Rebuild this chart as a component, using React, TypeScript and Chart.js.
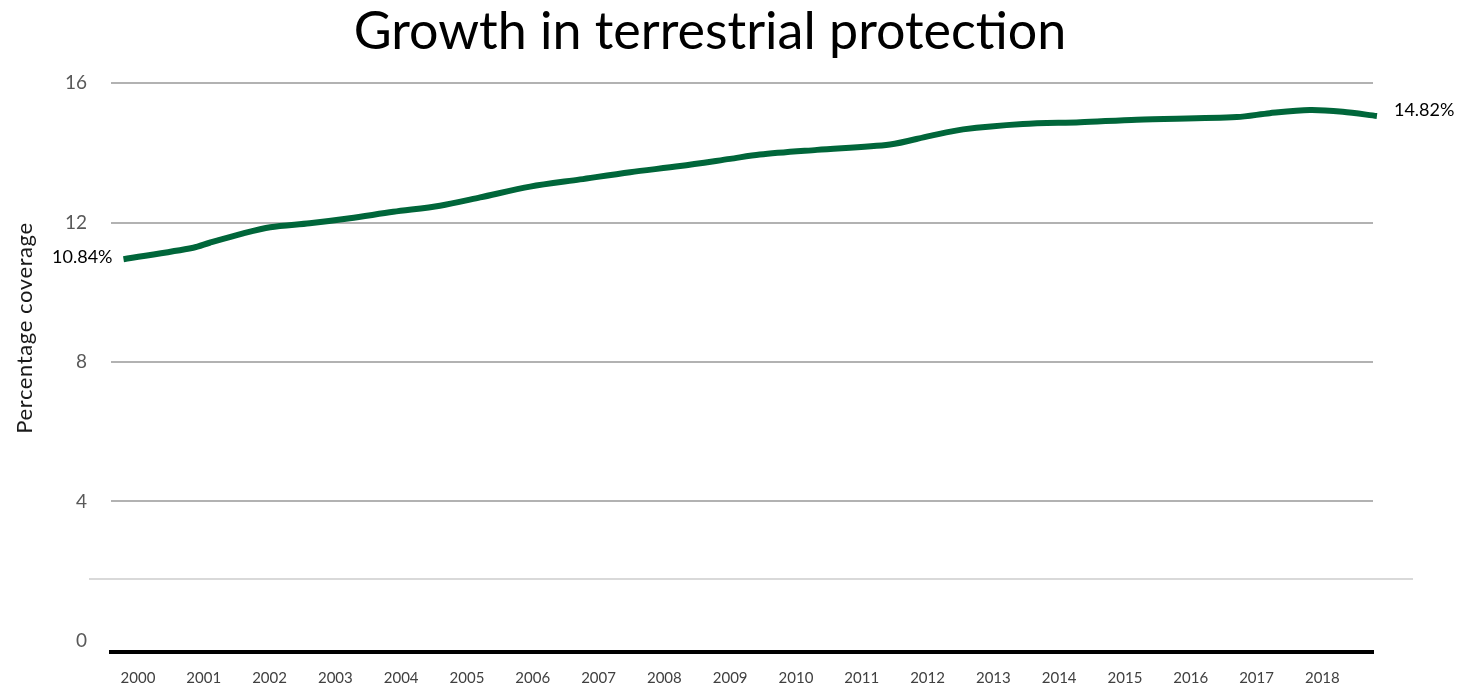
import React, { useEffect, useRef } from "react";
import { Chart, registerables } from "chart.js";

Chart.register(...registerables);

const TITLE = "Growth in terrestrial protection";
const Y_TITLE = "Percentage coverage";
const YEAR_TICKS = [2000, 2001, 2002, 2003, 2004, 2005, 2006, 2007, 2008, 2009, 2010, 2011, 2012, 2013, 2014, 2015, 2016, 2017, 2018];
const Y_TICKS = [0, 4, 8, 12, 16];
const REF_LINE = 1.78;

// time position (fractional year) of each sample and the terrestrial coverage (%)
const TIME = [1999.78, 2000.84, 2001.09, 2001.6, 2002.01, 2002.61, 2003.22, 2003.88, 2004.59, 2005.2, 2005.96, 2006.72, 2007.48, 2008.24, 2009.0, 2009.45, 2010.32, 2011.43, 2012.04, 2012.54, 2013.45, 2014.32, 2015.18, 2016.7, 2017.2, 2017.81, 2018.31, 2018.83];
const COVERAGE = [10.84, 11.16, 11.3, 11.56, 11.73, 11.84, 11.98, 12.16, 12.33, 12.56, 12.86, 13.06, 13.26, 13.43, 13.63, 13.75, 13.88, 14.03, 14.27, 14.45, 14.6, 14.65, 14.72, 14.79, 14.9, 14.99, 14.94, 14.82];

const FONT = "Lato, 'Open Sans', sans-serif";
const GREEN = "#00663A";

const decorPlugin = {
  id: "decor",
  beforeDatasetsDraw(chart: any) {
    const { ctx, chartArea, scales } = chart;
    const y = scales.y.getPixelForValue(REF_LINE);
    ctx.save();
    ctx.strokeStyle = "#d9d9d9";
    ctx.lineWidth = 2;
    ctx.beginPath();
    ctx.moveTo(chartArea.left - 22, y);
    ctx.lineTo(chartArea.right + 40, y);
    ctx.stroke();
    // axis title
    ctx.translate(25, 328);
    ctx.rotate(-Math.PI / 2);
    ctx.fillStyle = "#1a1a1a";
    ctx.font = `22px ${FONT}`;
    try {
      (ctx as any).letterSpacing = "0.6px";
    } catch (e) {}
    ctx.textAlign = "center";
    ctx.textBaseline = "middle";
    ctx.fillText(Y_TITLE, 0, 0);
    ctx.restore();
  },
  afterDatasetsDraw(chart: any) {
    const { ctx } = chart;
    const meta = chart.getDatasetMeta(0);
    const first = meta.data[0];
    const last = meta.data[meta.data.length - 1];
    ctx.save();
    ctx.fillStyle = "#000";
    ctx.font = `18px ${FONT}`;
    ctx.textBaseline = "middle";
    ctx.textAlign = "right";
    ctx.fillText(COVERAGE[0].toFixed(2) + "%", first.x - 11, first.y - 2);
    ctx.textAlign = "left";
    ctx.fillText(COVERAGE[COVERAGE.length - 1].toFixed(2) + "%", last.x + 17, last.y - 6);
    ctx.restore();
  },
};

export default function App() {
  const ref = useRef<HTMLCanvasElement | null>(null);

  useEffect(() => {
    document.body.style.margin = "0";
    const canvas = ref.current;
    if (!canvas) return;
    const chart = new Chart(canvas, {
      type: "line",
      data: {
        datasets: [
          {
            label: "Terrestrial coverage",
            data: TIME.map((t, i) => ({ x: t, y: COVERAGE[i] })),
            borderColor: GREEN,
            backgroundColor: GREEN,
            borderWidth: 6,
            pointRadius: 0,
            tension: 0.3,
            yAxisID: "yData",
            clip: false as any,
          },
        ],
      },
      options: {
        animation: false,
        responsive: false,
        devicePixelRatio: 1,
        layout: { padding: { left: 0, right: 44, top: 0, bottom: 0 } },
        plugins: {
          legend: { display: false },
          tooltip: { enabled: false },
          title: {
            display: true,
            text: TITLE,
            color: "#000",
            font: { family: FONT, size: 52, weight: "normal" as any },
            padding: { top: 1, bottom: 8 },
          },
        },
        scales: {
          x: {
            type: "linear",
            min: 1999.59,
            max: 2018.77,
            afterBuildTicks: (s: any) => {
              s.ticks = YEAR_TICKS.map((v) => ({ value: v }));
            },
            afterFit: (s: any) => {
              s.height = 38;
            },
            ticks: {
              autoSkip: false,
              maxRotation: 0,
              padding: 17,
              color: "#404040",
              font: { family: FONT, size: 15 },
              callback: (v: any) => String(v),
            },
            grid: { display: false, drawTicks: false },
            border: { display: true, color: "#000", width: 4 },
          },
          y: {
            position: "left",
            min: -0.318,
            max: 16.34,
            afterBuildTicks: (s: any) => {
              s.ticks = Y_TICKS.map((v) => ({ value: v }));
            },
            afterFit: (s: any) => {
              s.width = 111;
            },
            ticks: {
              padding: 24,
              color: "#595959",
              font: { family: FONT, size: 19 },
              callback: (v: any) => String(v),
            },
            grid: {
              drawTicks: false,
              lineWidth: 2,
              color: (c: any) => (c.tick && c.tick.value === 0 ? "rgba(0,0,0,0)" : "#b2b2b2"),
            },
            border: { display: false },
          },
          yData: {
            position: "right",
            min: -0.069,
            max: 16.06,
            afterFit: (s: any) => {
              s.width = 47;
            },
            ticks: { display: false },
            grid: { display: false, drawTicks: false },
            border: { display: false },
          },
        },
      } as any,
      plugins: [decorPlugin],
    });
    return () => chart.destroy();
  }, []);

  return (
    <div style={{ width: 1464, height: 690, background: "#fff" }}>
      <canvas ref={ref} width={1464} height={690} style={{ display: "block" }} />
    </div>
  );
}
